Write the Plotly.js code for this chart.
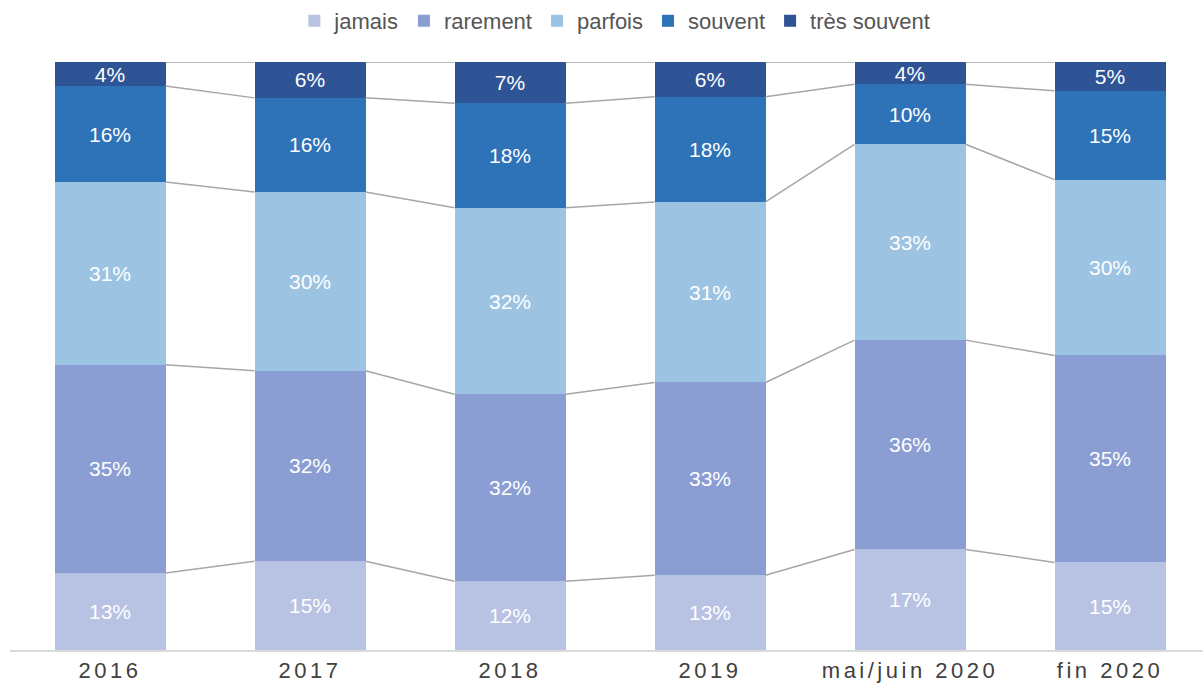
<!DOCTYPE html>
<html>
<head>
<meta charset="utf-8">
<script src="https://cdn.plot.ly/plotly-3.0.1.min.js"></script>
<style>
  html, body { margin: 0; padding: 0; background: #fff; }
  #chart { width: 1203px; height: 686px; }
  .xtick text { letter-spacing: 3.5px; }
</style>
</head>
<body>
<div id="chart"></div>
<script>
// Categories (x axis)
const categories = ["2016", "2017", "2018", "2019", "mai/juin 2020", "fin 2020"];

// Series values (%), bottom to top of each stacked bar
const jamais      = [13.1, 15.1, 11.7, 12.7, 17.1, 14.9];
const rarement    = [35.4, 32.4, 31.8, 32.8, 35.6, 35.2];
const parfois     = [31.1, 30.4, 31.7, 30.7, 33.3, 29.9];
const souvent     = [16.3, 16.0, 17.8, 17.9, 10.2, 15.1];
const tresSouvent = [4.1, 6.1, 7.0, 5.9, 3.8, 4.9];

const seriesNames = ["jamais", "rarement", "parfois", "souvent", "très souvent"];
const seriesValues = [jamais, rarement, parfois, souvent, tresSouvent];
const colors = ["#B8C2E3", "#8B9ED4", "#9CC3E2", "#2E72B8", "#2F5496"];

const xIdx = categories.map((_, i) => i);
const barWidth = 0.555;
const font = "Liberation Sans, Arial, Helvetica, sans-serif";

const traces = [];
seriesValues.forEach((vals, s) => {
  traces.push({
    type: "bar",
    name: seriesNames[s],
    x: xIdx,
    y: vals,
    width: barWidth,
    marker: { color: colors[s], line: { width: 0 } },
    texttemplate: "%{y:.0f}%",
    textposition: "inside",
    insidetextanchor: "middle",
    constraintext: "none",
    textfont: { color: "#ffffff", size: 21, family: font },
    hoverinfo: "skip"
  });
});

// Connector lines between bars at each cumulative boundary (including the top)
const cum = categories.map(() => 0);
seriesValues.forEach((vals) => {
  vals.forEach((v, i) => { cum[i] += v; });
  const lx = [], ly = [];
  for (let i = 0; i < categories.length - 1; i++) {
    lx.push(i + barWidth / 2, i + 1 - barWidth / 2, null);
    ly.push(cum[i], cum[i + 1], null);
  }
  traces.push({
    type: "scatter",
    mode: "lines",
    x: lx,
    y: ly,
    line: { color: "#A6A6A6", width: 1.5 },
    connectgaps: false,
    showlegend: false,
    hoverinfo: "skip"
  });
});

const layout = {
  width: 1203,
  height: 686,
  margin: { l: 10, r: 0, t: 61, b: 36 },
  barmode: "stack",
  paper_bgcolor: "#ffffff",
  plot_bgcolor: "#ffffff",
  font: { family: font, color: "#404040" },
  showlegend: true,
  legend: {
    orientation: "h",
    x: 0.507,
    xanchor: "center",
    y: 1.07,
    yanchor: "middle",
    font: { size: 22, color: "#555555", family: font },
    itemwidth: 30,
    traceorder: "normal"
  },
  xaxis: {
    type: "linear",
    range: [-0.5, 5.465],
    tickvals: xIdx,
    ticktext: categories,
    showgrid: false,
    zeroline: false,
    showline: true,
    linecolor: "#D9D9D9",
    linewidth: 1.5,
    ticks: "",
    tickfont: { size: 22, color: "#404040", family: font },
    fixedrange: true
  },
  yaxis: {
    range: [0, 100],
    showgrid: false,
    zeroline: false,
    showline: false,
    showticklabels: false,
    ticks: "",
    fixedrange: true
  }
};

Plotly.newPlot("chart", traces, layout, { displayModeBar: false, staticPlot: true });
</script>
</body>
</html>
